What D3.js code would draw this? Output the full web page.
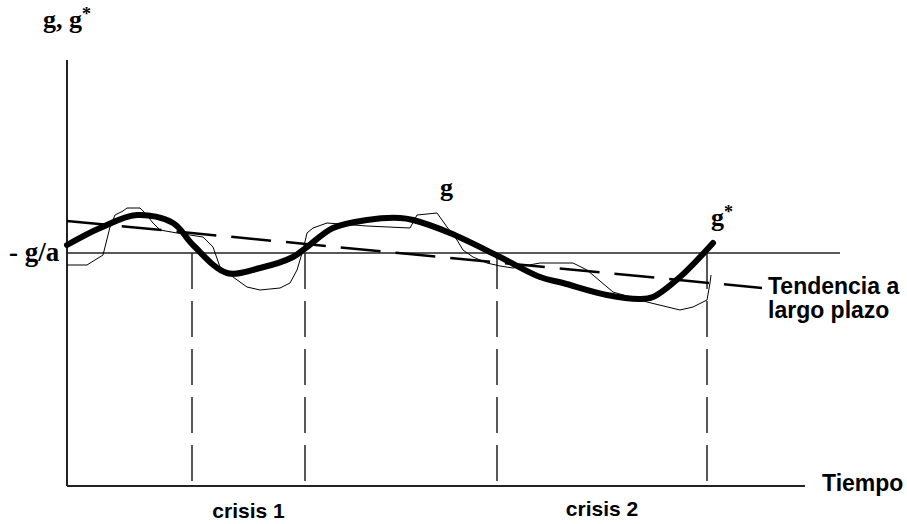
<!DOCTYPE html>
<html>
<head>
<meta charset="utf-8">
<script src="https://cdn.jsdelivr.net/npm/d3@7"></script>
<style>
  html, body { margin: 0; padding: 0; background: #fff; }
  svg { display: block; }
  .lbl { font-family: "Liberation Sans", Arial, sans-serif; font-weight: bold; fill: #000; }
  .ser { font-family: "Liberation Serif", "Times New Roman", serif; font-weight: bold; fill: #000; }
</style>
</head>
<body>
<div id="chart"></div>
<script>
// ---- data (time units / level units) ----
// g* : smooth (thick) trajectory
const gStarT = [0, 33, 70, 106, 126, 160, 193, 226, 240, 266, 300, 333, 346, 383, 433, 473, 496, 540, 573, 586, 613, 646];
const gStarV = [241, 258, 271, 263, 241, 213, 218, 229, 239, 258, 266, 268, 266, 253, 229, 209, 203, 191, 187, 189, 209, 243];
// g : observed (thin, irregular) trajectory
const gT = [0, 20, 36, 43, 48, 56, 60, 73, 78, 86, 93, 110, 136, 146, 153, 166, 180, 193, 213, 223, 230, 236, 240, 246, 260, 300, 343, 350, 370, 380, 390, 396, 406, 420, 433, 446, 473, 506, 520, 546, 580, 613, 626, 640, 643, 644];
const gV = [221, 221, 231, 259, 271, 275, 278, 278, 273, 263, 256, 253, 249, 239, 219, 209, 199, 196, 198, 203, 216, 236, 253, 258, 263, 260, 258, 271, 273, 259, 246, 236, 229, 223, 220, 218, 223, 223, 216, 194, 184, 176, 179, 186, 203, 211];
// long-run trend (start / end)
const trendT = [0, 695];
const trendV = [265, 198];
// reference level -g/a
const refV = 233;
const refEndT = 773;
// crisis boundaries
const crisisT = [125, 238, 430, 640];
const crisisLabels = ['crisis 1', 'crisis 2'];

const W = 907, H = 524;
const svg = d3.select('#chart').append('svg')
  .attr('width', W).attr('height', H)
  .attr('viewBox', `0 0 ${W} ${H}`);

const x = d3.scaleLinear().domain([0, 738]).range([67, 805]);
const y = d3.scaleLinear().domain([0, 426]).range([486, 60]);

// ---- axes (no ticks) ----
svg.append('line')
  .attr('x1', x(0)).attr('x2', x(0))
  .attr('y1', y(426)).attr('y2', y(0))
  .attr('stroke', '#222').attr('stroke-width', 2);
svg.append('line')
  .attr('x1', x(0)).attr('x2', x(738))
  .attr('y1', y(0)).attr('y2', y(0))
  .attr('stroke', '#222').attr('stroke-width', 2);

// ---- -g/a level ----
svg.append('line')
  .attr('x1', x(0)).attr('x2', x(refEndT))
  .attr('y1', y(refV)).attr('y2', y(refV))
  .attr('stroke', '#222').attr('stroke-width', 1.5);

// ---- crisis boundaries ----
svg.append('g').selectAll('line')
  .data(crisisT)
  .enter().append('line')
  .attr('x1', d => x(d)).attr('x2', d => x(d))
  .attr('y1', y(refV)).attr('y2', y(0))
  .attr('stroke', '#222').attr('stroke-width', 1.5)
  .attr('stroke-dasharray', '36,12');

// ---- trend ----
svg.append('line')
  .attr('x1', x(trendT[0])).attr('y1', y(trendV[0]))
  .attr('x2', x(trendT[1])).attr('y2', y(trendV[1]))
  .attr('stroke', '#000').attr('stroke-width', 2.5)
  .attr('stroke-dasharray', '40,15');

// ---- g (thin) ----
const gData = gT.map((t, i) => [t, gV[i]]);
svg.append('path')
  .datum(gData)
  .attr('fill', 'none')
  .attr('stroke', '#000').attr('stroke-width', 1)
  .attr('d', d3.line().x(d => x(d[0])).y(d => y(d[1])));

// ---- g* (thick) ----
const gsData = gStarT.map((t, i) => [t, gStarV[i]]);
svg.append('path')
  .datum(gsData)
  .attr('fill', 'none')
  .attr('stroke', '#000').attr('stroke-width', 6)
  .attr('stroke-linecap', 'round')
  .attr('d', d3.line().curve(d3.curveCatmullRom.alpha(0.5)).x(d => x(d[0])).y(d => y(d[1])));

// ---- labels ----
const yt = svg.append('text').attr('class', 'ser')
  .attr('x', 43).attr('y', 28).style('font-size', '26px').text('g, g');
yt.append('tspan').attr('dy', -8).style('font-size', '18px').text('*');

svg.append('text').attr('class', 'ser')
  .attr('x', 9).attr('y', 261).style('font-size', '27px').text('- g/a');

svg.append('text').attr('class', 'ser')
  .attr('x', 440).attr('y', 196).style('font-size', '26px').text('g');

const gs = svg.append('text').attr('class', 'ser')
  .attr('x', 711).attr('y', 226).style('font-size', '26px').text('g');
gs.append('tspan').attr('dy', -8).style('font-size', '18px').text('*');

svg.append('text').attr('class', 'lbl')
  .attr('x', 768).attr('y', 294).style('font-size', '23px').text('Tendencia a');
svg.append('text').attr('class', 'lbl')
  .attr('x', 768).attr('y', 318).style('font-size', '23px').text('largo plazo');

svg.append('text').attr('class', 'lbl')
  .attr('x', 822).attr('y', 491).style('font-size', '23px').text('Tiempo');

svg.append('g').selectAll('text')
  .data(crisisLabels)
  .enter().append('text').attr('class', 'lbl')
  .attr('x', (d, i) => (x(crisisT[i * 2]) + x(crisisT[i * 2 + 1])) / 2)
  .attr('y', (d, i) => i === 0 ? 518 : 516)
  .attr('text-anchor', 'middle')
  .style('font-size', '21px')
  .text(d => d);
</script>
</body>
</html>
